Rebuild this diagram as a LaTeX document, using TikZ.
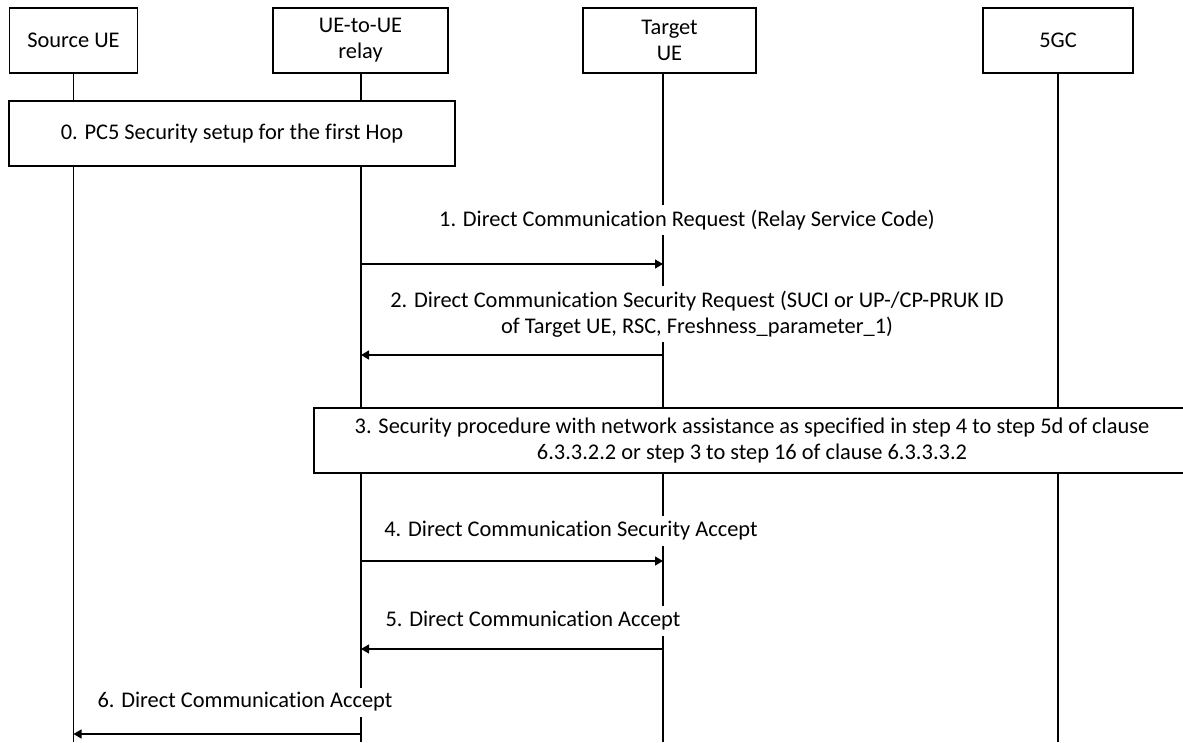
\documentclass[tikz,border=0pt]{standalone}
\usepackage{fontspec}
\setmainfont[Ligatures=NoCommon]{Carlito}
\usetikzlibrary{arrows.meta}
\newcommand{\dfs}{\fontsize{22.4}{26}\selectfont}
\begin{document}
\begin{tikzpicture}[x=1pt,y=-1pt,line width=1.2pt,
  actor/.style={draw,fill=white,minimum height=65pt,align=center,inner sep=0pt,font=\dfs},
  stepbox/.style={draw,fill=white,align=center,inner sep=0pt,font=\dfs},
  msg/.style={fill=white,align=center,inner xsep=2pt,inner ysep=5pt,font=\dfs},
  arr/.style={-{Triangle[length=8pt,width=9pt]}}]
\useasboundingbox (0,0) rectangle (1183,742);
\clip (0,0) rectangle (1183,742);
% actors
\node[actor,minimum width=128pt] (src) at (73.5,40.5) {Source UE};
\node[actor,minimum width=175pt] (rel) at (360.5,40.5) {UE-to-UE\\relay};
\node[actor,minimum width=173pt] (tgt) at (669.5,40.5) {Target\\UE};
\node[actor,minimum width=150pt] (cn) at (1058,40.5) {5GC};
% lifeline ends
\coordinate (srcB) at (73.5,742);
\coordinate (relB) at (361,742);
\coordinate (tgtB) at (663,742);
\coordinate (cnB) at (1058,742);
\draw (src.south) -- (srcB);
\draw (rel.south -| relB) -- (relB);
\draw (tgt.south -| tgtB) -- (tgtB);
\draw (cn.south) -- (cnB);
% step boxes
\node[stepbox,minimum width=446pt,minimum height=65pt] (s0) at (232,133.5) {0. PC5 Security setup for the first Hop};
\node[stepbox,minimum width=876pt,minimum height=65pt] (s3) at (752,440.5) {3. Security procedure with network assistance as specified in step 4 to step 5d of clause\\6.3.3.2.2 or step 3 to step 16 of clause 6.3.3.3.2};
% messages
\node[msg] (m1) at (687,220) {1. Direct Communication Request (Relay Service Code)};
\node[msg] (m2) at (697,314) {2. Direct Communication Security Request (SUCI or UP-/CP-PRUK ID\\of Target UE, RSC, Freshness\_parameter\_1)};
\node[msg] (m4) at (571,531) {4. Direct Communication Security Accept};
\node[msg] (m5) at (533,621) {5. Direct Communication Accept};
\node[msg] (m6) at (245,702) {6. Direct Communication Accept};
% arrow end points on lifelines
\coordinate (r1) at (361,264);
\coordinate (t1) at (663,264);
\coordinate (r2) at (361,355);
\coordinate (t2) at (663,355);
\coordinate (r4) at (361,561);
\coordinate (t4) at (663,561);
\coordinate (r5) at (361,649);
\coordinate (t5) at (663,649);
\coordinate (r6) at (361,734);
\coordinate (s6) at (73.5,734);
\draw[arr] (r1) -- (t1);
\draw[arr] (t2) -- (r2);
\draw[arr] (r4) -- (t4);
\draw[arr] (t5) -- (r5);
\draw[arr] (r6) -- (s6);
\end{tikzpicture}
\end{document}
